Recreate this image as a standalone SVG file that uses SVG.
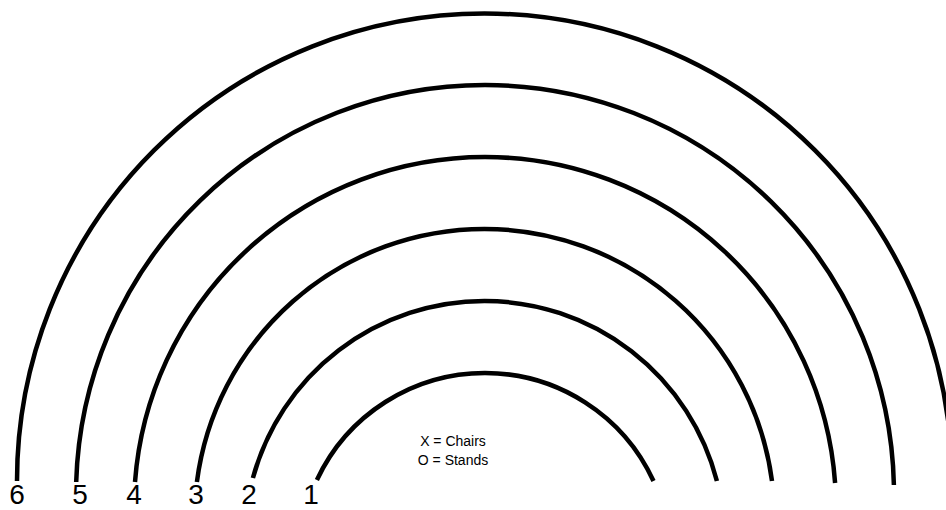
<svg xmlns="http://www.w3.org/2000/svg" width="946" height="510" viewBox="0 0 946 510">
<style>
.arc{fill:none;stroke:#000;stroke-width:4.5;stroke-linecap:butt}
.num{font-family:"Liberation Sans",Arial,sans-serif;font-size:28px;fill:#000;text-anchor:middle}
.lbl{font-family:"Liberation Sans",Arial,sans-serif;font-size:14px;fill:#000;text-anchor:middle}
</style>
<rect width="946" height="510" fill="#fff"/>
<g id="connectors">
<path id="arc1" class="arc" d="M316.9,480 A185.5,185.5 0 0 1 485,373 A185.5,185.5 0 0 1 653.5,481"/>
<path id="arc2" class="arc" d="M252.9,478 A240,240 0 0 1 484.5,301 A240,240 0 0 1 716.9,481"/>
<path id="arc3" class="arc" d="M196.9,482 A290,290 0 0 1 484.5,229 A290,290 0 0 1 772,481"/>
<path id="arc4" class="arc" d="M135,482 A351,351 0 0 1 485,157 A351,351 0 0 1 835.1,483"/>
<path id="arc5" class="arc" d="M76.2,482 A409,409 0 0 1 485,85 A409,409 0 0 1 893.9,485"/>
<path id="arc6" class="arc" d="M17,481 A467.5,467.5 0 0 1 484.5,13.5 A467.5,467.5 0 0 1 952,481"/>
</g>
<g id="row-labels">
<text class="num" x="17" y="504">6</text>
<text class="num" x="80" y="504">5</text>
<text class="num" x="134" y="504">4</text>
<text class="num" x="196" y="504">3</text>
<text class="num" x="249" y="504">2</text>
<text class="num" x="311" y="504">1</text>
</g>
<g id="legend">
<text class="lbl" x="453" y="446">X = Chairs</text>
<text class="lbl" x="453" y="465">O = Stands</text>
</g>
</svg>
